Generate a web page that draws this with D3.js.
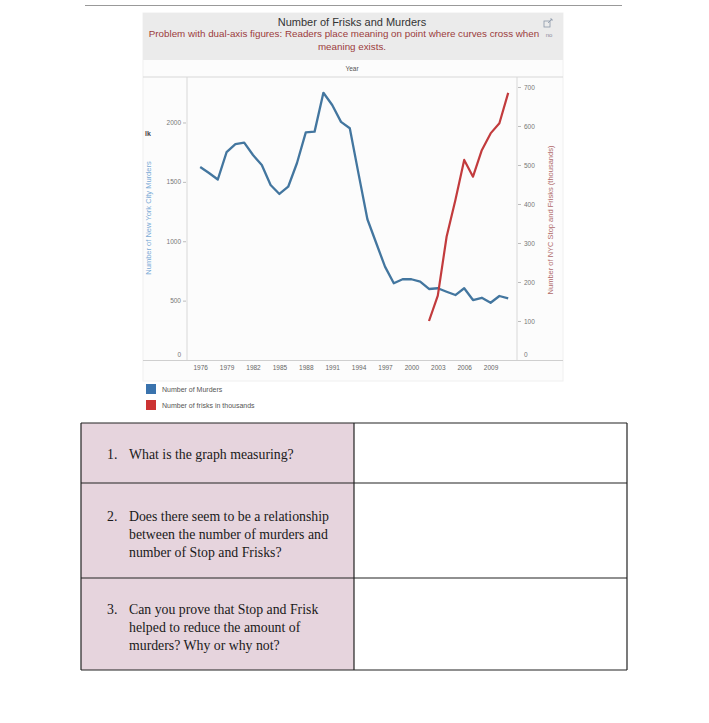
<!DOCTYPE html>
<html><head><meta charset="utf-8">
<script src="https://cdn.jsdelivr.net/npm/d3@7"></script>
<style>body{margin:0;background:#fff}svg{display:block}</style>
</head><body>
<svg id="c" width="709" height="723"></svg>
<script>
const murderYears = [1976,1977,1978,1979,1980,1981,1982,1983,1984,1985,1986,1987,1988,1989,1990,1991,1992,1993,1994,1995,1996,1997,1998,1999,2000,2001,2002,2003,2004,2005,2006,2007,2008,2009,2010,2011];
const murders = [1625,1575,1520,1750,1818,1830,1726,1642,1474,1398,1459,1659,1917,1923,2250,2147,2005,1951,1565,1185,985,786,646,680,680,660,598,604,575,547,604,505,524,482,539,519];
const friskYears = [2002,2003,2004,2005,2006,2007,2008,2009,2010,2011];
const frisks = [100,165,316,410,513,470,538,581,607,685];
const xTicks = [1976,1979,1982,1985,1988,1991,1994,1997,2000,2003,2006,2009];
const leftTicks = [0,500,1000,1500,2000];
const rightTicks = [0,100,200,300,400,500,600,700];
const legendItems = [{label:"Number of Murders",color:"#3a73ad"},{label:"Number of frisks in thousands",color:"#cc3333"}];
const questions = [
  ["What is the graph measuring?"],
  ["Does there seem to be a relationship","between the number of murders and","number of Stop and Frisks?"],
  ["Can you prove that Stop and Frisk","helped to reduce the amount of","murders? Why or why not?"]
];

const svg = d3.select("#c");
const sans = "Liberation Sans, Arial, sans-serif";

// top rule
svg.append("line").attr("x1",85).attr("x2",622).attr("y1",5.5).attr("y2",5.5).attr("stroke","#999").attr("stroke-width",1.2);

// panel
svg.append("rect").attr("x",143).attr("y",13).attr("width",420).attr("height",368).attr("fill","#fcfcfc").attr("stroke","#f0f0f0");
svg.append("rect").attr("x",143).attr("y",13).attr("width",420).attr("height",47).attr("fill","#ebebeb");

svg.append("text").attr("x",352).attr("y",26).attr("text-anchor","middle").attr("font-family",sans).attr("font-size",11).attr("fill","#333").text("Number of Frisks and Murders");
svg.append("text").attr("x",344).attr("y",37).attr("text-anchor","middle").attr("font-family",sans).attr("font-size",9.8).attr("fill","#9b3b3b").text("Problem with dual-axis figures: Readers place meaning on point where curves cross when");
svg.append("text").attr("x",549).attr("y",37).attr("text-anchor","middle").attr("font-family",sans).attr("font-size",6).attr("fill","#8a8a9a").text("no");
svg.append("text").attr("x",352).attr("y",50).attr("text-anchor","middle").attr("font-family",sans).attr("font-size",9.8).attr("fill","#9b3b3b").text("meaning exists.");
// export icon
svg.append("rect").attr("x",544).attr("y",21).attr("width",6).attr("height",6).attr("fill","none").attr("stroke","#8a97a8").attr("stroke-width",0.8);
svg.append("path").attr("d","M548,23 L552,19 M550,19 L552,19 L552,21").attr("fill","none").attr("stroke","#8a97a8").attr("stroke-width",0.8);

svg.append("text").attr("x",352).attr("y",71).attr("text-anchor","middle").attr("font-family",sans).attr("font-size",6.5).attr("fill","#555").text("Year");

const x = d3.scaleLinear().domain([1974.5,2012]).range([187,517]);
const yL = d3.scaleLinear().domain([0,2383]).range([360,77]);
const yR = d3.scaleLinear().domain([0,725.6]).range([360,77]);

// plot frame lines
svg.append("line").attr("x1",143).attr("x2",563).attr("y1",77).attr("y2",77).attr("stroke","#d8d8d8");
svg.append("line").attr("x1",187).attr("x2",187).attr("y1",77).attr("y2",360).attr("stroke","#d8d8d8");
svg.append("line").attr("x1",517).attr("x2",517).attr("y1",77).attr("y2",360).attr("stroke","#d8d8d8");
svg.append("line").attr("x1",143).attr("x2",563).attr("y1",360.5).attr("y2",360.5).attr("stroke","#cfcfcf");

// left axis
const la = svg.append("g").attr("transform","translate(186,0)").call(d3.axisLeft(yL).tickValues(leftTicks).tickSize(3).tickPadding(2).tickFormat(d3.format("d")));
la.select(".domain").remove();
la.selectAll("line").attr("stroke","#bbb");
la.selectAll("text").attr("font-family",sans).attr("font-size",6.5).attr("fill","#777");
la.selectAll(".tick").filter(d=>d===0).select("text").attr("dy","-0.5em");
la.selectAll(".tick").filter(d=>d===0).select("line").remove();

// right axis
const ra = svg.append("g").attr("transform","translate(518,0)").call(d3.axisRight(yR).tickValues(rightTicks).tickSize(3).tickPadding(3).tickFormat(d3.format("d")));
ra.select(".domain").remove();
ra.selectAll("line").attr("stroke","#bbb");
ra.selectAll("text").attr("font-family",sans).attr("font-size",6.5).attr("fill","#777");
ra.selectAll(".tick").filter(d=>d===0).select("text").attr("dy","-0.5em");
ra.selectAll(".tick").filter(d=>d===0).select("line").remove();

// x axis
const xa = svg.append("g").attr("transform","translate(0,361)").call(d3.axisBottom(x).tickValues(xTicks).tickSize(0).tickPadding(4).tickFormat(d3.format("d")));
xa.select(".domain").remove();
xa.selectAll("text").attr("font-family",sans).attr("font-size",6.5).attr("fill","#666");

// axis titles
svg.append("text").attr("transform","translate(151,218) rotate(-90)").attr("text-anchor","middle").attr("font-family",sans).attr("font-size",7.5).attr("fill","#7aaad6").text("Number of New York City Murders");
svg.append("text").attr("x",148).attr("y",136).attr("text-anchor","middle").attr("font-family",sans).attr("font-size",7).attr("font-weight","bold").attr("fill","#444").text("lk");
svg.append("text").attr("transform","translate(553,220) rotate(-90)").attr("text-anchor","middle").attr("font-family",sans).attr("font-size",7.5).attr("fill","#b06a6a").text("Number of NYC Stop and Frisks (thousands)");

// lines
const lineL = d3.line().x(d=>x(d[0])).y(d=>yL(d[1]));
const lineR = d3.line().x(d=>x(d[0])).y(d=>yR(d[1]));
svg.append("path").datum(murderYears.map((yy,i)=>[yy,murders[i]])).attr("d",lineL).attr("fill","none").attr("stroke","#43769f").attr("stroke-width",2.3).attr("stroke-linejoin","round");
svg.append("path").datum(friskYears.map((yy,i)=>[yy,frisks[i]])).attr("d",lineR).attr("fill","none").attr("stroke","#c23b3d").attr("stroke-width",2.2).attr("stroke-linejoin","round");

// legend
const lg = svg.append("g");
legendItems.forEach((it,i)=>{
  lg.append("rect").attr("x",146).attr("y",384+i*16).attr("width",10).attr("height",10).attr("fill",it.color);
  lg.append("text").attr("x",162).attr("y",392+i*16).attr("font-family",sans).attr("font-size",7).attr("fill","#555").text(it.label);
});

// table
const rows = [423,483,578,670];
const tb = svg.append("g");
for(let i=0;i<3;i++){
  tb.append("rect").attr("x",81).attr("y",rows[i]).attr("width",273).attr("height",rows[i+1]-rows[i]).attr("fill","#e6d4dd");
}
rows.forEach(r=>tb.append("line").attr("x1",81).attr("x2",627).attr("y1",r).attr("y2",r).attr("stroke","#222").attr("stroke-width",1.2));
[81,354,627].forEach(c=>tb.append("line").attr("x1",c).attr("x2",c).attr("y1",rows[0]).attr("y2",rows[3]).attr("stroke","#222").attr("stroke-width",1.2));
const serif = "Liberation Serif, Times New Roman, serif";
const firstBase = [459,521,614];
questions.forEach((q,i)=>{
  tb.append("text").attr("x",107).attr("y",firstBase[i]).attr("font-family",serif).attr("font-size",13.8).attr("fill","#1a1a1a").text((i+1)+".");
  q.forEach((ln,j)=>{
    tb.append("text").attr("x",129).attr("y",firstBase[i]+j*18).attr("font-family",serif).attr("font-size",13.8).attr("fill","#1a1a1a").text(ln);
  });
});
</script>
</body></html>
